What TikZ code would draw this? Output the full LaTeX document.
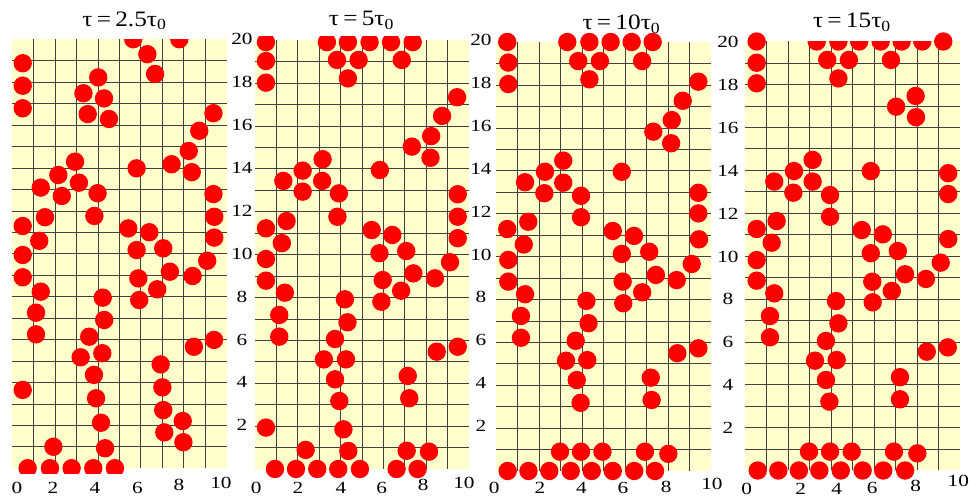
\documentclass[tikz,border=0pt]{standalone}
\usepackage{graphicx}
\usepackage{fontspec}
\setmainfont{Liberation Serif}
\definecolor{cream}{HTML}{FFFFCC}
\definecolor{ballred}{HTML}{FF0000}
\tikzset{
  ball/.style={fill=ballred},
  gridline/.style={draw=black!75, line width=0.55pt},
  panelbg/.style={fill=cream},
  ttl/.style={font=\fontsize{22}{22}\selectfont, anchor=base, inner sep=0pt},
  axlab/.style={font=\fontsize{17}{17}\selectfont, anchor=center, inner sep=0pt},
}
\newcommand{\sx}[1]{\scalebox{1.25}[1]{#1}}
\newcommand{\tx}[1]{\scalebox{1.15}[1]{#1}}
\newcommand{\panelgrid}{%
  \fill[panelbg] (0,0) rectangle (10,20);
  \foreach \i in {1,...,9} \draw[gridline] (\i,0) -- (\i,20);
  \foreach \j in {1,...,19} \draw[gridline] (0,\j) -- (10,\j);
}
\begin{document}
\begin{tikzpicture}[x=1pt,y=1pt]
\useasboundingbox (0,0) rectangle (970,498);
\fill[white] (0,0) rectangle (970,498);

% ---------- panel 1 ----------
\begin{scope}[shift={(12,29.8)}, x=21.45pt, y=21.45pt]
  \panelgrid
  \begin{scope}
    \clip (-1,-0.25) rectangle (11,20);
    \foreach \a/\b in {5.65/20, 7.8/20, 6.31/19.3, 6.67/18.38, 0.5/18.88, 0.5/17.83, 0.5/16.78, 4.02/18.22, 3.33/17.48, 4.29/17.24, 3.53/16.51, 4.52/16.28, 9.39/16.55, 8.73/15.73, 8.24/14.79, 7.44/14.17, 8.38/13.8, 5.81/13.98, 2.94/14.29, 2.16/13.67, 3.12/13.31, 1.34/13.08, 2.32/12.69, 3.99/12.82, 3.84/11.76, 1.54/11.7, 0.5/11.29, 1.27/10.6, 9.39/12.78, 9.43/11.72, 9.43/10.75, 5.42/11.18, 6.4/11.0, 5.81/10.17, 7.05/10.25, 0.5/9.94, 0.5/8.9, 1.34/8.23, 1.12/7.25, 1.12/6.24, 0.5/3.65, 5.89/8.85, 7.36/9.16, 8.42/8.96, 9.1/9.67, 6.77/8.34, 5.93/7.84, 4.23/7.95, 4.3/6.91, 3.6/6.13, 4.21/5.36, 3.2/5.17, 3.82/4.35, 3.92/3.26, 4.15/2.12, 4.34/0.93, 1.93/1.0, 0.73/0, 1.77/0, 2.78/0, 3.79/0, 4.8/0, 6.93/4.84, 7.01/3.77, 7.05/2.71, 7.1/1.67, 7.96/2.2, 7.99/1.21, 8.48/5.66, 9.42/5.98}
      \fill[ball] (\a,\b) circle (9.2pt);
  \end{scope}
  \foreach \v in {2,4,...,20} \node[axlab] (p1y\v) at (10.72,\v) {\sx{\v}};
  \foreach \u/\t/\w in {0.23/0/-0.92, 1.91/2/-0.94, 3.87/4/-0.94, 5.85/6/-0.92, 7.78/8/-0.8, 9.74/10/-0.7}
    \node[axlab] (p1x\t) at (\u,\w) {\sx{\t}};
\end{scope}
\node[ttl] (t1) at (124.5,471.3) {\tx{τ\,=\,2.5τ\textsubscript{0}}};

% ---------- panel 2 ----------
\begin{scope}[shift={(254.6,29)}, x=21.45pt, y=21.45pt]
  \panelgrid
  \begin{scope}
    \clip (-1,-1) rectangle (11,20.15);
    \foreach \a/\b in {0.53/19.9, 0.53/19.02, 0.53/18.01, 3.37/19.9, 4.35/19.9, 5.36/19.9, 6.36/19.9, 7.37/19.9, 3.84/19.07, 4.85/19.07, 6.86/19.07, 4.35/18.21, 9.44/17.33, 8.74/16.46, 8.23/15.52, 7.33/15.03, 8.2/14.51, 5.84/13.94, 3.17/14.44, 2.24/13.91, 3.15/13.43, 1.34/13.43, 2.24/12.93, 3.93/12.85, 3.86/11.76, 1.49/11.56, 0.53/11.22, 1.27/10.53, 9.47/12.81, 9.47/11.76, 9.47/10.76, 5.46/11.14, 6.42/10.91, 0.53/9.79, 0.53/8.78, 1.41/8.22, 1.15/7.18, 1.15/6.17, 0.53/1.93, 5.82/10.06, 7.07/10.16, 5.97/8.81, 7.4/9.12, 8.41/8.89, 9.11/9.64, 6.83/8.31, 5.91/7.8, 4.21/7.91, 4.33/6.84, 3.75/6.06, 4.26/5.11, 3.23/5.11, 3.75/4.18, 3.95/3.17, 4.14/1.85, 4.37/0.84, 2.38/0.89, 0.95/0, 1.93/0, 2.92/0, 3.9/0, 4.91/0, 6.62/0, 7.6/0, 7.09/0.85, 8.13/0.81, 7.14/4.34, 7.21/3.3, 8.49/5.47, 9.47/5.7}
      \fill[ball] (\a,\b) circle (9.2pt);
  \end{scope}
  \foreach \v in {2,4,...,20} \node[axlab] (p2y\v) at (10.55,\v) {\sx{\v}};
  \foreach \u/\t/\w in {0.07/0/-0.9, 2.02/2/-0.9, 4.02/4/-0.9, 5.93/6/-0.88, 7.86/8/-0.76, 9.76/10/-0.66}
    \node[axlab] (p2x\t) at (\u,\w) {\sx{\t}};
\end{scope}
\node[ttl] (t2) at (361.5,472) {\tx{τ\,=\,5τ\textsubscript{0}}};

% ---------- panel 3 ----------
\begin{scope}[shift={(496.3,27)}, x=21.45pt, y=21.45pt]
  \panelgrid
  \foreach \a/\b in {0.51/20, 0.56/19.04, 0.56/18.04, 3.31/20, 4.34/20, 5.33/20, 6.31/20, 7.29/20, 3.82/19.11, 4.83/19.11, 6.8/19.11, 4.34/18.26, 9.42/18.15, 8.69/17.26, 8.18/16.36, 7.32/15.82, 8.15/15.28, 5.85/13.95, 3.12/14.47, 2.27/13.95, 3.12/13.44, 1.34/13.46, 2.24/12.95, 3.95/12.83, 3.95/11.83, 1.49/11.62, 0.51/11.28, 1.28/10.56, 9.42/12.97, 9.42/12.01, 9.45/10.8, 5.43/11.19, 6.42/10.96, 0.56/9.84, 0.56/8.83, 1.34/8.24, 1.15/7.23, 1.15/6.21, 5.85/10.12, 7.13/10.22, 5.89/8.83, 7.44/9.14, 8.41/8.9, 9.11/9.65, 6.8/8.33, 5.92/7.82, 4.2/7.93, 4.3/6.89, 3.7/6.07, 4.24/5.17, 3.25/5.14, 3.75/4.24, 3.93/3.18, 7.2/4.35, 7.24/3.31, 8.44/5.49, 9.42/5.72, 2.97/0.9, 3.95/0.9, 4.95/0.9, 6.93/0.9, 8.02/0.8, 0.53/0, 1.5/0, 2.47/0, 3.47/0, 4.45/0, 5.43/0, 6.43/0, 7.4/0}
    \fill[ball] (\a,\b) circle (9.2pt);
  \foreach \v in {2,4,...,20} \node[axlab] (p3y\v) at (10.8,\v) {\sx{\v}};
  \foreach \u/\t/\w in {-0.1/0/-0.8, 2.04/2/-0.8, 3.97/4/-0.8, 5.9/6/-0.8, 7.92/8/-0.74, 10.05/10/-0.62}
    \node[axlab] (p3x\t) at (\u,\w) {\sx{\t}};
\end{scope}
\node[ttl] (t3) at (621.5,468) {\tx{τ\,=\,10τ\textsubscript{0}}};

% ---------- panel 4 ----------
\begin{scope}[shift={(745.3,27.5)}, x=21.45pt, y=21.45pt]
  \panelgrid
  \begin{scope}
    \clip (-1,-1) rectangle (11,20);
    \foreach \a in {3.33, 4.34, 5.31, 6.31, 7.29, 8.25}
      \fill[ball] (\a,20) circle (9.2pt);
  \end{scope}
  \foreach \a/\b in {0.53/20, 0.53/19.01, 0.53/18.05, 9.23/20, 3.82/19.14, 4.83/19.14, 6.79/19.14, 4.34/18.28, 7.94/17.46, 7.03/16.96, 7.96/16.47, 5.85/13.96, 3.14/14.48, 2.27/13.96, 3.14/13.47, 1.35/13.47, 2.24/12.95, 3.95/12.84, 3.95/11.83, 1.46/11.63, 0.53/11.26, 1.23/10.62, 9.46/13.86, 9.46/12.89, 9.46/10.79, 5.43/11.21, 6.41/11.01, 0.53/9.81, 0.53/8.85, 1.35/8.26, 1.15/7.2, 1.15/6.21, 5.85/10.13, 7.11/10.23, 5.92/8.8, 7.45/9.15, 8.42/8.93, 9.11/9.69, 6.83/8.37, 5.94/7.84, 4.23/7.9, 4.34/6.86, 3.76/6.04, 4.26/5.15, 3.25/5.12, 3.76/4.22, 3.92/3.21, 7.21/4.35, 7.21/3.32, 8.46/5.54, 9.44/5.74, 2.97/0.88, 3.95/0.88, 4.96/0.88, 6.93/0.88, 8.02/0.8, 0.58/0, 1.54/0, 2.5/0, 3.45/0, 4.45/0, 5.47/0, 6.43/0, 7.45/0}
    \fill[ball] (\a,\b) circle (9.2pt);
  \foreach \u/\t/\w in {0.06/0/-0.85, 2.58/2/-0.84, 4.26/4/-0.84, 5.92/6/-0.8, 7.94/8/-0.7, 9.93/10/-0.5}
    \node[axlab] (p4x\t) at (\u,\w) {\sx{\t}};
\end{scope}
\node[ttl] (t4) at (852,470) {\tx{τ\,=\,15τ\textsubscript{0}}};
\end{tikzpicture}
\end{document}
